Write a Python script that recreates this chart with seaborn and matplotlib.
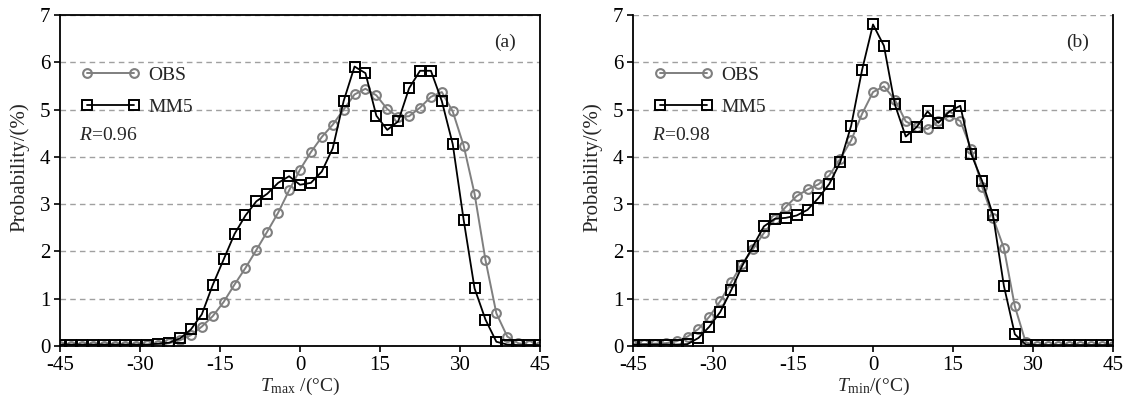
import numpy as np
import pandas as pd
import matplotlib
matplotlib.use('Agg')
import matplotlib.pyplot as plt
import seaborn as sns

# category positions: 45 bins spread over -45..45 degC
temps = np.linspace(-45, 45, 45)

# panel (a) Tmax probability (%)
tmax_obs = [0.01, 0.01, 0.01, 0.01, 0.01, 0.01, 0.01, 0.01, 0.02, 0.03,
            0.06, 0.12, 0.23, 0.41, 0.63, 0.93, 1.30, 1.65, 2.03, 2.42,
            2.82, 3.29, 3.73, 4.10, 4.42, 4.68, 5.00, 5.32, 5.44, 5.30,
            5.01, 4.84, 4.86, 5.04, 5.27, 5.37, 4.96, 4.24, 3.22, 1.82,
            0.69, 0.20, 0.06, 0.02, 0.01]
tmax_mm5 = [0.03, 0.03, 0.03, 0.03, 0.03, 0.03, 0.03, 0.03, 0.03, 0.05,
            0.07, 0.16, 0.35, 0.67, 1.29, 1.83, 2.37, 2.76, 3.06, 3.22,
            3.45, 3.59, 3.41, 3.45, 3.69, 4.18, 5.18, 5.91, 5.77, 4.87,
            4.57, 4.75, 5.45, 5.82, 5.82, 5.18, 4.27, 2.67, 1.22, 0.56,
            0.09, 0.03, 0.02, 0.02, 0.02]

# panel (b) Tmin probability (%)
tmin_obs = [0.03, 0.04, 0.05, 0.06, 0.10, 0.20, 0.36, 0.62, 0.95, 1.35,
            1.74, 2.05, 2.39, 2.68, 2.94, 3.17, 3.31, 3.42, 3.61, 3.96,
            4.35, 4.91, 5.37, 5.49, 5.21, 4.75, 4.63, 4.59, 4.75, 4.86,
            4.76, 4.17, 3.37, 2.71, 2.07, 0.84, 0.08, 0.01, 0.01, 0.01,
            0.01, 0.01, 0.01, 0.01, 0.01]
tmin_mm5 = [0.03, 0.03, 0.03, 0.03, 0.03, 0.04, 0.17, 0.41, 0.72, 1.18,
            1.69, 2.11, 2.53, 2.69, 2.71, 2.76, 2.88, 3.13, 3.43, 3.89,
            4.66, 5.84, 6.80, 6.35, 5.11, 4.43, 4.63, 4.96, 4.72, 4.96,
            5.08, 4.06, 3.49, 2.77, 1.27, 0.25, 0.03, 0.02, 0.02, 0.02,
            0.02, 0.02, 0.02, 0.02, 0.02]

panels = [
    ('(a)', '0.96', r'$T_{\rm max}$ /(°C)', tmax_obs, tmax_mm5),
    ('(b)', '0.98', r'$T_{\rm min}$/(°C)', tmin_obs, tmin_mm5),
]

sns.set_style('white')
plt.rcParams['font.family'] = ['Liberation Serif', 'DejaVu Serif']
plt.rcParams['mathtext.fontset'] = 'custom'
plt.rcParams['mathtext.rm'] = 'Liberation Serif'
plt.rcParams['mathtext.it'] = 'Liberation Serif:italic'
plt.rcParams['axes.unicode_minus'] = False

fig = plt.figure(figsize=(11.35, 4.01), dpi=100)
lefts = [60 / 1135, 633 / 1135]

for (tag, r, xlab, obs, mm5), left in zip(panels, lefts):
    ax = fig.add_axes([left, 55 / 401, 480 / 1135, 331 / 401])
    df = pd.DataFrame({'T': temps, 'OBS': obs, 'MM5': mm5})
    sns.lineplot(data=df, x='T', y='OBS', ax=ax, color='#7f7f7f', linewidth=1.4,
                 marker='o', markersize=6.3, markerfacecolor='none',
                 markeredgecolor='#7f7f7f', markeredgewidth=1.5, label='OBS')
    sns.lineplot(data=df, x='T', y='MM5', ax=ax, color='black', linewidth=1.3,
                 marker='s', markersize=6.5, markerfacecolor='none',
                 markeredgecolor='black', markeredgewidth=1.4, label='MM5')

    ax.set_xlim(-45, 45)
    ax.set_ylim(0, 7)
    ax.set_xticks(np.arange(-45, 46, 15))
    ax.set_yticks(np.arange(0, 8, 1))
    ax.yaxis.grid(True, linestyle=(0, (4, 3)), color='#a0a0a0', linewidth=1)
    ax.xaxis.grid(False)
    ax.set_axisbelow(True)
    for s in ['left', 'bottom', 'right', 'top']:
        ax.spines[s].set_color('black')
        ax.spines[s].set_linewidth(1.3)
    if tag == '(b)':
        ax.spines['top'].set_visible(False)
    ax.tick_params(axis='both', direction='out', length=4, width=1.2,
                   labelsize=15, colors='black', pad=3)
    ax.tick_params(axis='x', bottom=True)
    ax.tick_params(axis='y', left=True)

    ax.set_xlabel(xlab, fontsize=14, labelpad=1)
    ax.set_ylabel('Probability/(%)', fontsize=15)
    ax.yaxis.set_label_coords(-0.064, 0.54)

    ax.text(0.927, 0.918, tag, transform=ax.transAxes, fontsize=14,
            ha='center', va='center')
    ax.text(0.04, 0.637, r'$R$=' + r, transform=ax.transAxes, fontsize=14,
            ha='left', va='center')

    ax.legend(loc='upper left', bbox_to_anchor=(0.044, 0.845), frameon=False,
              numpoints=2, handlelength=3.0, handletextpad=0.45,
              labelspacing=0.75, borderpad=0, borderaxespad=0, fontsize=14)

fig.savefig('out.png', dpi=100)
